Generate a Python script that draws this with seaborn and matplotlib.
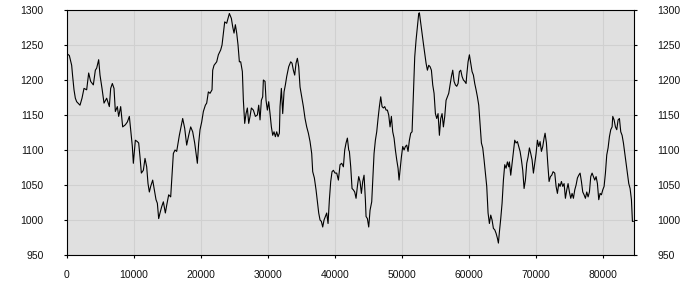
import matplotlib
matplotlib.use("Agg")
import matplotlib.pyplot as plt
import seaborn as sns
import pandas as pd

x_values = [
    0, 393, 741, 891, 1090, 1289, 1488, 1985, 2284, 2582, 2980, 3279, 3577, 3975, 4274, 4473, 4771, 4970,
    5269, 5567, 5965, 6363, 6562, 6811, 7060, 7259, 7557, 7756, 8055, 8353, 8751, 9050, 9348, 9597, 9796,
    9945, 10244, 10542, 10741, 10940, 11139, 11438, 11686, 11935, 12134, 12333, 12532, 12831, 13079, 13328,
    13527, 13726, 13925, 14174, 14423, 14721, 14920, 15219, 15517, 15666, 15915, 16164, 16413, 16612, 16811,
    17059, 17308, 17607, 17905, 18204, 18502, 18801, 19099, 19497, 19696, 19895, 20144, 20393, 20691, 20890,
    21139,
    21388, 21686, 21786, 21985, 22383, 22631, 22980, 23179, 23378, 23577, 23875, 24124, 24273, 24572, 24771,
    24970, 25169, 25368, 25567, 25766, 25965, 26213, 26363, 26562, 26761, 26960, 27159, 27358, 27557, 27855,
    28154, 28452, 28651, 28850, 29049, 29248, 29348, 29596, 29746, 29945, 30144, 30343, 30542, 30741, 30940,
    31139, 31338, 31537, 31736, 31835, 32034, 32233, 32432, 32631, 32830, 33129, 33427, 33626, 33825, 34024,
    34223, 34422, 34621, 34820, 35069, 35318, 35566, 35815, 36064, 36313, 36561, 36711, 36959, 37208, 37407,
    37606, 37805, 38004, 38203, 38402, 38601, 38800, 38999, 39198, 39397, 39596, 39795, 40044, 40293, 40542,
    40790, 41039, 41288, 41487, 41686, 41885, 42084,
    42183, 42382, 42581, 42780, 42979, 43178, 43377, 43576, 43775, 43974, 44173, 44372, 44571, 44671, 44870,
    45069, 45268, 45516, 45666, 45865, 46064, 46263, 46462, 46661, 46860, 47059, 47258, 47457, 47656, 47855,
    48054, 48253, 48452, 48651, 48850, 49049, 49248, 49447, 49596, 49795, 49944, 50143, 50342, 50541, 50740,
    50939, 51138, 51337, 51536, 51636, 51835, 51934, 52133, 52332, 52531, 52631, 52830, 53029, 53228, 53427,
    53626, 53825, 54024, 54223, 54422, 54621, 54820, 55019, 55218, 55417, 55616, 55815, 56014, 56213, 56412,
    56611, 56810, 57009, 57208, 57407, 57606, 57805, 58004, 58203, 58402, 58601, 58800, 58999, 59198, 59397,
    59596, 59695, 59894, 60093, 60292, 60491, 60690, 60889, 61088, 61287, 61486, 61685, 61884, 62083, 62282,
    62481, 62680, 62879, 63078,
    63277, 63476, 63675, 63874, 64073, 64272, 64421, 64571, 64770, 64969, 65168, 65367, 65566, 65765, 65964,
    66063, 66262, 66461, 66660, 66859, 67058, 67257, 67456, 67655, 67854, 68053, 68252, 68451, 68650, 68849,
    69048, 69247, 69446, 69645, 69844, 70043, 70242, 70441, 70640, 70839, 71038, 71237, 71386, 71585, 71784,
    71983, 72182, 72381, 72580, 72829, 73028, 73227, 73426, 73625, 73824, 74023, 74222, 74421, 74620, 74819,
    75018, 75217, 75416, 75615, 75814, 76013, 76212, 76411, 76610, 76809, 77008, 77207, 77406, 77605, 77804,
    78003, 78202, 78401, 78600, 78799, 78998, 79197, 79396, 79595, 79794, 79993, 80192, 80391, 80590, 80789,
    80988, 81187, 81386, 81486, 81685, 81884, 82083, 82282, 82481, 82680, 82879, 83078, 83277, 83476, 83675,
    83874, 84073, 84272, 84421, 84570,
]

y_values = [
    1238, 1235, 1221, 1205, 1186, 1174, 1169, 1164, 1174, 1188, 1186, 1210, 1198, 1193, 1214, 1217, 1229, 1207,
    1188, 1167, 1174, 1162, 1188, 1195, 1188, 1155, 1162, 1148, 1162, 1133, 1136, 1140, 1148, 1124, 1105,
    1081, 1114, 1112, 1110, 1090, 1067, 1071, 1088, 1076, 1052, 1040, 1048, 1057, 1043, 1029,
    1024, 1002, 1010, 1019, 1026, 1010, 1021, 1036, 1033, 1057, 1095, 1100, 1098, 1110, 1121,
    1133, 1145, 1131, 1107, 1121, 1133, 1126, 1110, 1081, 1110, 1129, 1140, 1155, 1164, 1167,
    1183,
    1181, 1186, 1214, 1221, 1226, 1236, 1243, 1250, 1267, 1283, 1281, 1290, 1295, 1288, 1276,
    1267, 1279, 1267, 1250, 1226, 1226, 1212, 1171, 1138, 1152, 1160, 1138, 1148, 1160, 1157,
    1148, 1150, 1164, 1143, 1171, 1176, 1200, 1198, 1171, 1157, 1169, 1152, 1133, 1121, 1126,
    1119, 1126, 1119, 1124, 1162, 1188, 1152, 1183, 1193, 1205, 1219, 1226, 1224, 1214, 1207,
    1224, 1231, 1219, 1190, 1176, 1162, 1145, 1133, 1124, 1112, 1095, 1069, 1060, 1043, 1026,
    1010, 1000, 998, 990, 1000, 1005, 1010, 995, 1029, 1055, 1069, 1071, 1067, 1067, 1057,
    1079, 1081, 1076, 1100, 1110, 1117, 1100,
    1098, 1076, 1045, 1043, 1040, 1031, 1048, 1062, 1055, 1038, 1055, 1064, 1029, 1005, 1002,
    990, 1014, 1026, 1057, 1095, 1114, 1126, 1145, 1162, 1176, 1162, 1160, 1162, 1157, 1157,
    1150, 1133, 1148, 1126, 1117, 1100, 1086, 1074, 1057, 1076, 1090, 1105, 1100, 1105, 1107,
    1098, 1114, 1124, 1126, 1152, 1200, 1233, 1257, 1276, 1295, 1296, 1281, 1267, 1252, 1238,
    1224, 1214, 1221, 1219, 1214, 1193, 1181, 1152, 1145, 1152, 1121, 1145, 1152, 1133, 1148,
    1171, 1176, 1181, 1193, 1205, 1214, 1198, 1193, 1191, 1195, 1212, 1214, 1205, 1200, 1198,
    1195, 1207, 1226, 1236, 1224, 1212, 1207, 1195, 1186, 1176, 1164, 1138, 1110, 1103, 1086,
    1067, 1048, 1010, 995,
    1007, 1000, 988, 986, 981, 974, 967, 983, 1002, 1024, 1057, 1079, 1074, 1083, 1076,
    1083, 1064, 1081, 1098, 1114, 1110, 1112, 1105, 1098, 1086, 1071, 1045, 1057, 1081, 1090,
    1103, 1095, 1086, 1067, 1081, 1095, 1114, 1105, 1112, 1098, 1105, 1117, 1124, 1110, 1081,
    1055, 1062, 1064, 1069, 1067, 1048, 1038, 1052, 1048, 1055, 1048, 1052, 1031, 1043, 1052,
    1040, 1031, 1038, 1031, 1043, 1050, 1060, 1064, 1067, 1055, 1040, 1036, 1031, 1040, 1033,
    1040, 1062, 1067, 1062, 1057, 1062, 1052, 1029, 1038, 1036, 1043, 1048, 1067, 1093, 1103,
    1119, 1129, 1133, 1148, 1143, 1133, 1129, 1143, 1145, 1126, 1121, 1110, 1095, 1081, 1067,
    1052, 1045, 1029, 998, 998,
]

x_ticks = [0, 10000, 20000, 30000, 40000, 50000, 60000, 70000, 80000]
y_ticks = [950, 1000, 1050, 1100, 1150, 1200, 1250, 1300]

df = pd.DataFrame({"x": x_values, "y": y_values})

sns.set_style("white", {"axes.facecolor": "#e0e0e0"})
plt.rcParams["font.family"] = ["Liberation Sans", "DejaVu Sans"]

fig = plt.figure(figsize=(7, 3), dpi=100)
ax = fig.add_axes([66.7 / 700, 45 / 300, (634.3 - 66.7) / 700, 245 / 300])
ax.set_facecolor("#e0e0e0")

sns.lineplot(data=df, x="x", y="y", ax=ax, color="black", linewidth=0.8, estimator=None, sort=False)

ax.set_xlim(0, 84700)
ax.set_ylim(950, 1300)
ax.set_xticks(x_ticks)
ax.set_xticklabels([str(t) for t in x_ticks])
ax.set_yticks(y_ticks)
ax.set_yticklabels([str(t) for t in y_ticks])
ax.grid(True, color="#d0d0d0", linewidth=0.8)
ax.set_axisbelow(True)
ax.set_xlabel("")
ax.set_ylabel("")
for s in ax.spines.values():
    s.set_color("black")
    s.set_linewidth(0.8)
ax.tick_params(axis="both", which="both", direction="out", length=2.5, width=0.8,
               labelsize=7.5, colors="black", labelcolor="#111111")
ax.tick_params(axis="y", left=True, right=True, labelleft=True, labelright=True, pad=14)
ax.tick_params(axis="x", bottom=True, pad=8)

fig.savefig("out.png", dpi=100)
